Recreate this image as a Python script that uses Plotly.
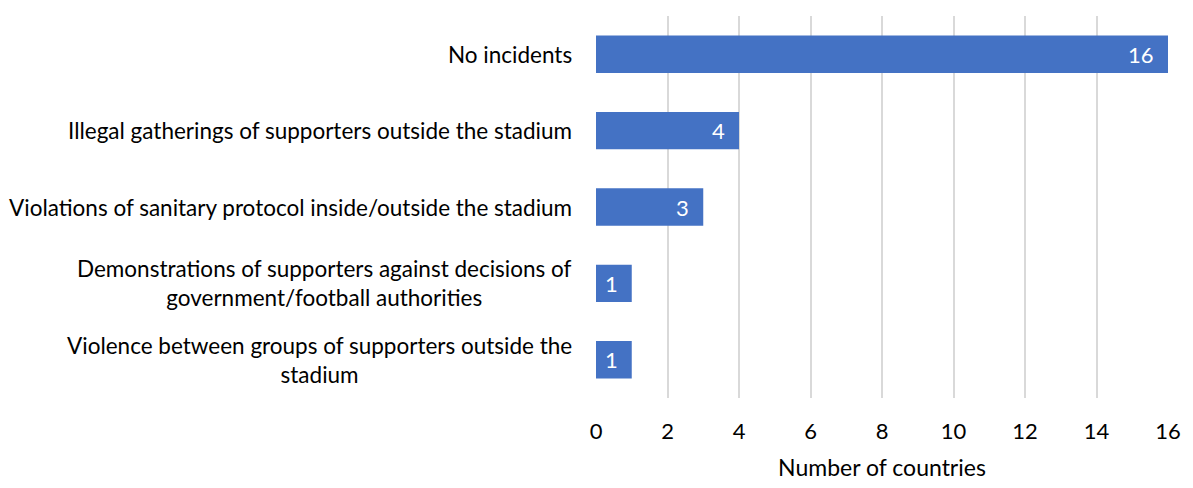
import plotly.graph_objects as go

# Incident categories (top to bottom) and number of countries reporting each
categories = [
    "No incidents",
    "Illegal gatherings of supporters outside the stadium",
    "Violations of sanitary protocol inside/outside the stadium",
    "Demonstrations of supporters against decisions of<br>government/football authorities",
    "Violence between groups of supporters outside the<br>stadium",
]
counts = [16, 4, 3, 1, 1]
x_ticks = [0, 2, 4, 6, 8, 10, 12, 14, 16]

FONT = "Lato"
BAR_COLOR = "#4472C4"

fig = go.Figure(
    go.Bar(
        x=counts,
        y=categories,
        orientation="h",
        marker=dict(color=BAR_COLOR, line=dict(width=0)),
        width=0.49,
        hoverinfo="x+y",
    )
)

# Value labels just inside the end of each bar
for cat, val in zip(categories, counts):
    fig.add_annotation(
        x=val, xref="x", y=cat, yref="y",
        text=str(val), showarrow=False,
        xanchor="right", yanchor="middle", xshift=-12,
        font=dict(family=FONT, size=22, color="white"),
    )

# Category labels drawn as centred multi-line text to the left of the plot
for cat in categories:
    fig.add_annotation(
        x=0, xref="paper", y=cat, yref="y",
        text=cat, showarrow=False,
        xanchor="right", yanchor="middle", xshift=-22,
        align="center",
        font=dict(family=FONT, size=22.5, color="#000000"),
    )

fig.update_layout(
    width=1193,
    height=488,
    margin=dict(l=596, r=18, t=16, b=83),
    paper_bgcolor="white",
    plot_bgcolor="white",
    showlegend=False,
    font=dict(family=FONT, size=22, color="#000000"),
    xaxis=dict(
        range=[0, 16],
        tickmode="array",
        tickvals=x_ticks,
        ticktext=[str(t) for t in x_ticks],
        showgrid=True,
        gridcolor="#d9d9d9",
        gridwidth=2,
        zeroline=False,
        showline=False,
        ticks="",
        ticklabelstandoff=18,
        tickfont=dict(family=FONT, size=22, color="#000000"),
        title=dict(text="Number of countries", font=dict(family=FONT, size=23, color="#000000"), standoff=16),
    ),
    yaxis=dict(
        categoryorder="array",
        categoryarray=categories[::-1],
        showticklabels=False,
        showgrid=False,
        zeroline=False,
        showline=False,
        ticks="",
    ),
)

fig.write_html("out.html")
